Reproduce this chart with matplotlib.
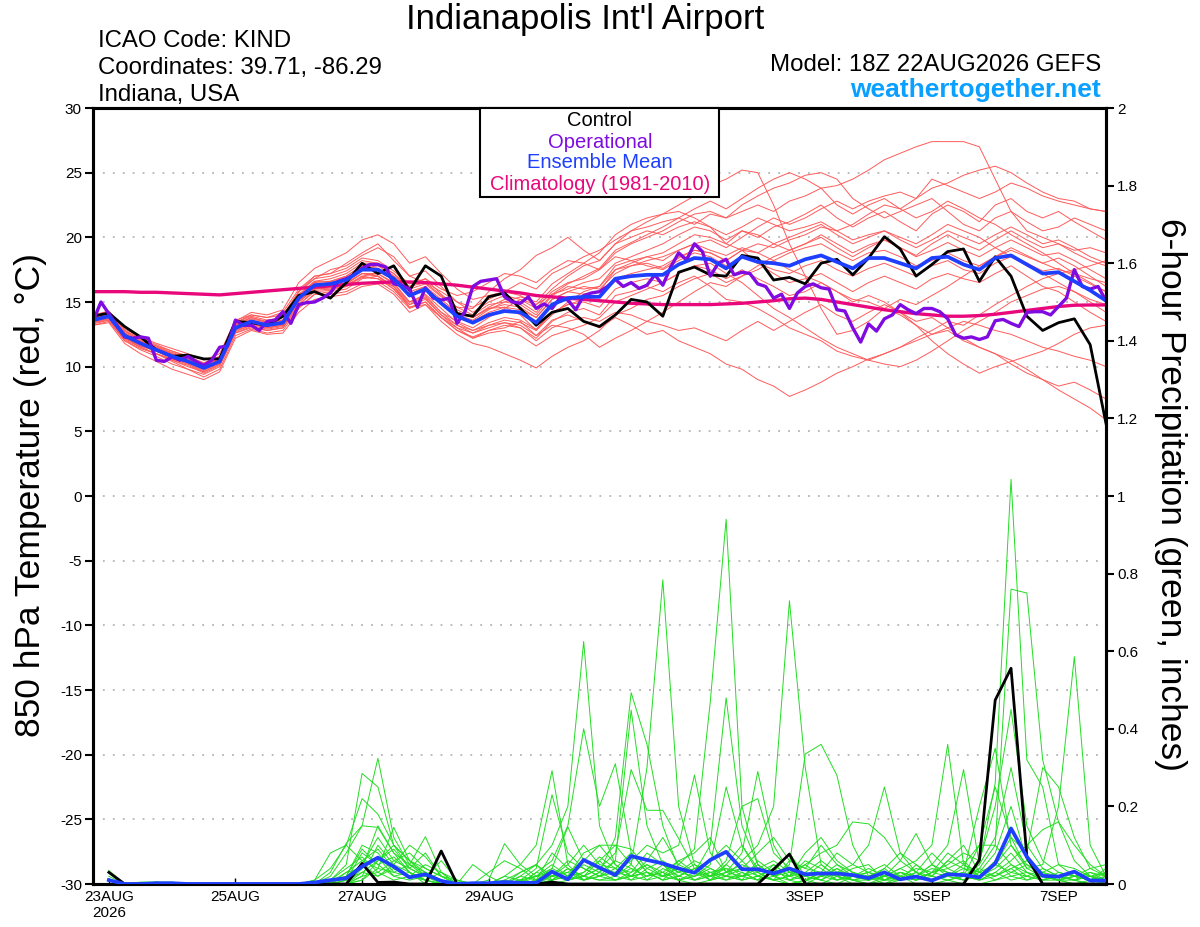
import numpy as np
import matplotlib
matplotlib.use('Agg')
import matplotlib.pyplot as plt
from matplotlib.patches import Rectangle

plt.rcParams['font.family'] = ['Liberation Sans', 'DejaVu Sans']
plt.rcParams['axes.unicode_minus'] = False

# ---------------- data ----------------
tick_hours = [6, 54, 102, 150, 222, 270, 318, 366]
tick_labels = ['23AUG\n2026', '25AUG', '27AUG', '29AUG', '1SEP', '3SEP', '5SEP', '7SEP']

control_t = [13.9, 14.15, 13.1, 12.3, 11.3, 10.8, 10.9, 10.6, 10.6, 13.5,
             13.4, 13.2, 13.9, 15.5, 15.8, 15.3, 16.5, 18.0, 17.2, 17.8,
             15.9, 17.8, 17.0, 14.1, 13.9, 15.4, 15.7, 14.5, 13.2, 14.2,
             14.5, 13.5, 13.1, 14.0, 15.2, 15.0, 13.9, 17.3, 17.7, 17.1,
             17.0, 18.6, 18.4, 16.7, 16.9, 16.4, 18.0, 18.3, 17.1, 18.4,
             20.05, 19.1, 17.0, 17.9, 18.9, 19.1, 16.6, 18.5, 17.0, 13.9,
             12.8, 13.4, 13.7, 11.7, 5.6]

mean_t = [13.6, 13.9, 12.4, 11.8, 11.3, 10.8, 10.4, 9.9, 10.4, 13.0,
          13.5, 13.2, 13.4, 15.3, 16.3, 16.4, 16.7, 17.5, 17.5, 16.8,
          15.5, 16.0, 14.9, 13.9, 13.4, 14.0, 14.3, 14.2, 13.4, 14.8,
          15.3, 15.4, 15.4, 16.8, 17.0, 17.1, 17.1, 17.9, 18.4, 18.3,
          17.6, 18.5, 18.1, 18.0, 17.8, 18.3, 18.6, 18.1, 17.6, 18.4,
          18.4, 18.0, 17.6, 18.4, 18.5, 17.9, 17.5, 18.4, 18.6, 17.9,
          17.2, 17.3, 16.6, 15.9, 15.1]

clim_t = [15.8, 15.8, 15.8, 15.75, 15.75, 15.7, 15.65, 15.6, 15.55, 15.65,
          15.75, 15.85, 15.95, 16.05, 16.15, 16.25, 16.35, 16.45, 16.5, 16.55,
          16.55, 16.5, 16.4, 16.3, 16.15, 16.0, 15.85, 15.7, 15.5, 15.4,
          15.3, 15.2, 15.1, 15.0, 14.9, 14.85, 14.8, 14.8, 14.8, 14.8,
          14.85, 14.9, 15.0, 15.1, 15.25, 15.3, 15.2, 15.0, 14.8, 14.6,
          14.4, 14.25, 14.1, 14.0, 13.9, 13.9, 13.95, 14.05, 14.2, 14.35,
          14.5, 14.65, 14.75, 14.77, 14.77]

oper_t = [13.5, 15.0, 14.1, 13.2, 12.3, 12.2, 12.3, 12.2, 10.5, 10.4,
          10.75, 10.5, 10.8, 10.4, 10.1, 10.5, 11.5, 11.6, 13.6, 13.2,
          13.2, 12.8, 13.5, 13.6, 14.25, 13.35, 14.8, 14.95, 15.0, 15.3,
          15.7, 16.6, 16.8, 17.1, 17.6, 17.9, 17.9, 17.7, 16.4, 16.3,
          16.0, 14.6, 16.1, 15.3, 15.15, 15.3, 13.35, 14.25, 16.2, 16.6,
          16.7, 16.8, 15.4, 15.0, 14.9, 15.4, 14.5, 14.85, 14.5, 15.3,
          15.15, 14.4, 15.5, 15.7, 15.8, 16.2, 16.75, 16.2, 16.5, 16.05,
          16.3, 17.1, 16.3, 17.7, 18.8, 18.25, 19.5, 18.9, 17.0, 18.0,
          18.3, 17.1, 17.3, 17.2, 16.4, 16.2, 15.3, 15.6, 14.5, 15.7,
          16.2, 16.4, 16.1, 16.0, 14.4, 14.3, 13.0, 11.9, 13.3, 12.75,
          13.7, 14.0, 14.8, 14.4, 14.1, 14.5, 14.5, 14.25, 13.7, 12.45,
          12.2, 12.3, 12.1, 12.3, 13.55, 13.65, 13.35, 13.1, 14.2, 14.25,
          14.25, 14.0, 14.65, 15.3, 17.5, 16.2, 16.0, 16.2, 15.1]

tm01 = [13.8, 14.2, 12.8, 12.0, 11.0, 10.5, 10.0, 9.6, 10.2, 12.8, 13.2, 13.5, 13.8, 15.8, 17.0,
        17.2, 18.0, 18.8, 19.5, 18.2, 17.0, 16.5, 15.8, 15.0, 14.6, 15.2, 15.8, 16.5, 16.0, 17.2,
        17.8, 18.5, 19.0, 19.8, 20.5, 20.8, 21.2, 21.5, 21.0, 21.8, 21.5, 22.0, 22.5, 22.0, 22.8,
        23.2, 23.8, 24.0, 24.5, 25.2, 26.0, 26.5, 27.0, 27.4, 27.4, 27.4, 27.0, 24.5, 22.0, 20.5,
        20.0, 19.5, 19.0, 19.2, 18.8]
tm02 = [13.4, 13.6, 12.0, 11.4, 11.0, 10.4, 9.8, 9.4, 10.0, 12.6, 13.0, 12.8, 13.0, 14.6, 15.6,
        15.8, 16.0, 16.8, 17.0, 16.0, 14.8, 15.2, 14.0, 13.0, 12.2, 12.8, 13.0, 13.5, 12.4, 13.6,
        14.0, 13.5, 13.0, 13.8, 13.2, 12.5, 12.8, 12.0, 11.5, 11.0, 10.2, 9.8, 9.0, 8.5, 7.7,
        8.2, 8.8, 9.5, 10.0, 10.6, 11.0, 11.5, 12.0, 12.5, 13.0, 13.5, 13.2, 12.8, 12.5, 12.0,
        11.5, 11.2, 10.8, 10.5, 10.0]
tm03 = [13.7, 14.0, 12.6, 11.9, 11.4, 11.0, 10.6, 10.2, 10.6, 13.2, 13.8, 13.4, 13.6, 15.5, 16.6,
        16.8, 17.2, 18.0, 18.0, 17.0, 15.8, 16.2, 15.0, 14.0, 13.5, 14.2, 14.6, 14.0, 12.8, 14.0,
        15.0, 15.8, 16.2, 17.5, 18.0, 18.5, 18.2, 19.0, 19.5, 19.0, 18.6, 19.2, 18.8, 18.2, 17.5,
        17.0, 16.5, 15.8, 15.2, 15.0, 14.5, 14.0, 13.2, 12.5, 12.8, 12.0, 11.5, 11.0, 10.2, 9.5,
        9.0, 8.2, 7.5, 6.8, 5.9]
tm04 = [13.5, 13.8, 12.3, 11.6, 11.2, 10.9, 10.6, 10.0, 10.6, 13.4, 14.0, 13.8, 14.0, 15.8, 16.8,
        17.5, 17.8, 18.6, 19.2, 18.5, 17.0, 17.4, 16.2, 15.0, 14.2, 15.0, 15.5, 15.2, 14.5, 15.8,
        16.5, 16.8, 17.5, 18.8, 19.5, 20.0, 20.5, 21.2, 21.8, 22.0, 21.5, 22.5, 23.2, 23.8, 24.2,
        24.8, 25.0, 24.5, 23.0, 22.2, 21.5, 22.0, 22.5, 23.0, 22.0, 21.0, 20.5, 21.5, 22.0, 21.2,
        20.5, 20.8, 21.5, 21.0, 20.5]
tm05 = [13.2, 13.5, 12.0, 11.3, 10.8, 10.2, 9.8, 9.2, 9.8, 12.4, 12.9, 12.6, 12.8, 14.5, 15.6,
        15.6, 15.8, 16.4, 16.6, 15.8, 14.5, 15.0, 13.8, 12.8, 12.3, 12.8, 13.2, 13.0, 12.2, 13.5,
        14.2, 14.5, 14.0, 15.5, 15.8, 16.2, 15.8, 16.5, 17.0, 16.2, 15.2, 15.0, 14.5, 13.8, 13.0,
        12.5, 12.0, 11.2, 10.8, 10.5, 11.0, 11.5, 12.2, 12.8, 13.5, 13.2, 14.0, 14.8, 15.5, 16.2,
        16.8, 17.2, 17.5, 17.8, 18.2]
tm06 = [14.0, 14.3, 12.9, 12.3, 11.8, 11.4, 11.0, 10.5, 11.0, 13.6, 14.0, 13.8, 14.2, 16.0, 17.0,
        17.2, 17.6, 18.4, 18.2, 17.4, 16.4, 16.8, 15.6, 14.6, 14.0, 14.8, 15.0, 14.8, 14.0, 15.5,
        16.2, 16.0, 16.2, 17.8, 18.2, 18.5, 18.8, 19.5, 20.2, 20.0, 19.5, 20.5, 20.0, 20.8, 21.2,
        21.8, 22.5, 21.5, 20.8, 21.5, 22.0, 21.2, 20.5, 21.8, 22.5, 22.0, 21.2, 22.5, 23.0, 22.0,
        21.5, 22.0, 21.2, 20.5, 19.8]
tm07 = [13.6, 13.8, 12.2, 11.6, 11.2, 10.6, 10.2, 9.7, 10.3, 12.8, 13.4, 13.0, 13.2, 15.0, 16.0,
        16.2, 16.5, 17.2, 17.2, 16.5, 15.0, 15.5, 14.2, 13.5, 13.0, 13.8, 14.5, 15.2, 14.8, 16.0,
        17.0, 17.8, 18.2, 19.5, 20.5, 21.2, 21.8, 22.5, 23.2, 24.0, 24.5, 25.2, 25.0, 22.5, 19.5,
        17.0, 14.5, 12.5, 12.8, 13.5, 14.5, 15.2, 14.8, 15.5, 16.2, 17.0, 17.8, 18.5, 19.0, 18.5,
        18.0, 17.5, 17.2, 16.8, 16.5]
tm08 = [13.8, 14.0, 12.5, 11.9, 11.5, 11.0, 10.6, 10.0, 10.5, 13.2, 13.6, 13.3, 13.5, 15.4, 16.4,
        16.5, 16.9, 17.6, 17.6, 17.0, 15.6, 16.2, 15.2, 14.2, 13.8, 14.5, 14.8, 14.6, 13.8, 15.2,
        15.8, 16.2, 16.0, 17.2, 17.8, 18.0, 17.6, 18.4, 19.0, 18.8, 18.2, 19.0, 19.5, 19.2, 19.8,
        20.2, 20.8, 20.5, 21.0, 21.8, 22.5, 22.2, 23.0, 23.8, 24.2, 24.8, 25.2, 25.5, 25.0, 24.2,
        23.5, 23.0, 22.8, 22.2, 22.0]
tm09 = [13.5, 13.7, 12.2, 11.5, 11.0, 10.5, 10.1, 9.5, 10.1, 12.9, 13.3, 13.0, 13.2, 15.0, 16.1,
        16.0, 16.2, 17.0, 16.8, 16.2, 15.0, 15.6, 14.5, 13.4, 12.8, 13.4, 13.8, 13.6, 12.9, 14.2,
        14.8, 15.0, 14.6, 16.0, 16.5, 16.8, 16.5, 17.2, 17.8, 17.5, 16.8, 17.5, 16.8, 16.2, 15.5,
        15.8, 16.5, 15.8, 15.0, 15.5, 15.0, 14.2, 13.5, 13.8, 13.0, 12.2, 11.5, 11.0, 10.5, 9.8,
        9.0, 8.5, 8.8, 8.2, 7.5]
tm10 = [13.4, 13.7, 12.3, 11.7, 11.2, 10.7, 10.3, 9.8, 10.3, 12.7, 13.2, 12.9, 13.1, 14.8, 15.8,
        15.9, 16.2, 16.9, 16.8, 16.0, 14.6, 14.8, 13.5, 12.5, 11.8, 11.5, 11.0, 10.5, 9.9, 10.8,
        11.5, 12.0, 12.8, 14.0, 14.5, 15.2, 15.5, 16.2, 16.8, 17.2, 16.5, 17.0, 17.5, 18.2, 18.8,
        19.2, 19.5, 18.8, 18.2, 18.8, 19.0, 18.5, 17.8, 18.2, 18.8, 18.2, 17.8, 18.5, 19.2, 18.6,
        18.0, 18.4, 17.8, 17.0, 16.2]
tm11 = [13.9, 14.1, 12.6, 12.0, 11.5, 11.1, 10.7, 10.1, 10.7, 13.3, 13.8, 13.5, 13.6, 15.6, 16.6,
        16.6, 17.0, 17.8, 17.9, 17.2, 16.0, 16.4, 15.4, 14.6, 14.5, 15.8, 16.8, 17.5, 18.6, 19.2,
        20.0, 19.0, 18.2, 19.5, 20.0, 20.5, 20.2, 20.8, 21.2, 20.8, 20.2, 20.8, 21.5, 21.0, 20.5,
        20.8, 21.2, 20.5, 19.8, 20.2, 20.5, 19.8, 19.2, 19.8, 20.5, 20.0, 19.5, 20.2, 20.8, 20.2,
        19.5, 19.8, 19.2, 18.5, 18.0]
tm12 = [13.3, 13.6, 12.1, 11.5, 11.0, 10.6, 10.2, 9.6, 10.2, 12.6, 13.1, 12.8, 13.0, 14.8, 15.9,
        16.0, 16.3, 17.0, 17.2, 16.4, 15.0, 15.3, 14.0, 13.2, 12.8, 13.2, 13.4, 13.0, 12.0, 13.0,
        13.5, 13.8, 13.5, 14.2, 14.0, 13.5, 13.2, 12.8, 13.0, 12.5, 12.0, 12.8, 13.5, 12.8, 13.5,
        14.2, 14.8, 14.0, 13.5, 14.2, 14.8, 14.2, 13.2, 12.0, 11.0, 10.2, 9.5, 10.0, 10.4, 10.8,
        11.2, 11.8, 12.5, 13.0, 13.2]
tm13 = [13.7, 14.1, 12.7, 12.1, 11.6, 11.2, 10.8, 10.3, 10.8, 13.5, 14.2, 14.0, 14.4, 16.5, 17.6,
        18.2, 18.8, 19.8, 20.2, 19.5, 18.0, 18.5, 17.2, 16.0, 15.2, 15.5, 15.8, 15.5, 14.8, 15.6,
        16.0, 16.5, 16.8, 18.0, 18.5, 19.0, 19.5, 20.2, 20.8, 20.5, 19.8, 20.5, 20.2, 19.5, 19.0,
        19.5, 20.0, 19.2, 18.5, 19.2, 19.8, 19.2, 18.6, 19.5, 20.2, 19.5, 19.0, 19.8, 20.5, 19.8,
        19.2, 19.5, 18.8, 18.2, 17.8]
tm14 = [13.6, 13.9, 12.4, 11.8, 11.4, 10.9, 10.5, 10.0, 10.5, 13.1, 13.6, 13.3, 13.5, 15.3, 16.3,
        16.5, 16.8, 17.5, 17.4, 16.8, 15.4, 16.0, 15.0, 14.0, 13.6, 14.4, 15.0, 15.4, 15.0, 16.4,
        17.2, 18.0, 18.8, 20.2, 21.0, 21.5, 21.8, 22.0, 21.5, 20.8, 19.5, 19.0, 18.0, 17.2, 16.5,
        16.8, 17.2, 16.5, 15.8, 16.5, 17.0, 16.5, 16.0, 16.8, 17.2, 16.8, 16.5, 17.2, 17.8, 17.0,
        16.2, 15.8, 15.0, 14.2, 13.5]
tm15 = [13.2, 13.4, 11.8, 11.0, 10.4, 9.8, 9.4, 9.0, 9.6, 12.2, 12.8, 12.5, 12.6, 14.2, 15.2,
        15.4, 15.6, 16.2, 16.4, 15.6, 14.2, 14.8, 13.8, 13.0, 12.6, 13.2, 13.6, 13.4, 12.8, 14.2,
        14.8, 15.2, 15.5, 16.8, 17.2, 17.5, 17.8, 18.5, 19.0, 18.8, 18.2, 19.0, 18.8, 19.5, 20.0,
        20.5, 21.0, 20.2, 19.5, 20.0, 20.5, 20.0, 19.5, 20.2, 21.0, 20.5, 20.0, 19.2, 18.5, 17.8,
        17.2, 16.5, 15.8, 15.0, 14.2]
tm16 = [13.9, 14.2, 12.8, 12.2, 11.7, 11.2, 10.8, 10.2, 10.8, 13.4, 13.9, 13.6, 13.8, 15.8, 16.8,
        17.0, 17.4, 18.2, 18.0, 17.2, 16.2, 16.5, 15.5, 14.4, 13.8, 14.5, 14.6, 14.4, 13.8, 15.2,
        15.8, 15.6, 15.8, 17.5, 17.8, 18.2, 18.5, 19.0, 19.5, 19.8, 19.2, 20.0, 20.8, 21.5, 21.0,
        21.5, 22.2, 22.8, 22.2, 22.8, 23.2, 23.5, 23.0, 24.5, 24.0, 23.5, 23.0, 23.5, 24.2, 23.8,
        23.2, 22.8, 22.5, 22.2, 22.0]
tm17 = [13.5, 13.8, 12.4, 11.8, 11.3, 10.8, 10.4, 9.8, 10.4, 13.0, 13.5, 13.2, 13.4, 15.3, 16.2,
        16.5, 16.8, 17.6, 17.8, 17.0, 16.2, 16.8, 16.0, 15.5, 15.8, 16.5, 17.2, 17.0, 16.5, 17.5,
        18.2, 18.0, 17.5, 18.5, 18.2, 17.8, 17.5, 18.2, 18.8, 18.5, 17.8, 18.5, 18.0, 17.5, 17.2,
        17.8, 18.2, 17.5, 17.0, 17.6, 18.0, 17.5, 17.0, 17.8, 18.2, 17.5, 17.2, 18.0, 18.5, 18.0,
        17.4, 17.6, 17.0, 16.4, 15.8]
tm18 = [13.6, 14.0, 12.5, 11.9, 11.4, 10.9, 10.5, 10.0, 10.5, 13.0, 13.4, 13.1, 13.3, 15.1, 16.1,
        16.2, 16.4, 17.2, 17.0, 16.2, 14.8, 15.4, 14.2, 13.2, 12.6, 13.0, 13.4, 13.2, 12.4, 13.2,
        13.0, 12.5, 11.5, 12.2, 12.8, 13.5, 14.2, 15.0, 15.8, 16.5, 16.2, 17.0, 17.8, 18.5, 19.0,
        19.5, 20.2, 19.5, 18.8, 19.4, 19.8, 19.2, 18.5, 19.0, 19.6, 19.0, 18.5, 19.2, 19.8, 19.2,
        18.6, 18.8, 18.2, 17.5, 16.8]
tm19 = [13.8, 14.1, 12.6, 12.0, 11.6, 11.0, 10.6, 10.1, 10.6, 13.2, 13.7, 13.4, 13.6, 15.5, 16.5,
        16.6, 17.0, 17.8, 17.6, 16.9, 15.6, 16.0, 15.0, 14.2, 13.8, 14.6, 15.2, 15.0, 14.2, 15.6,
        16.4, 17.0, 17.6, 19.0, 19.6, 20.2, 20.8, 21.5, 22.2, 22.8, 22.2, 23.0, 23.8, 24.5, 25.0,
        24.5, 23.8, 22.5, 21.8, 22.5, 23.0, 22.2, 21.5, 22.0, 22.8, 22.2, 21.5, 21.0, 20.2, 19.5,
        18.8, 18.0, 17.2, 16.5, 15.8]
tm20 = [13.4, 13.8, 12.3, 11.7, 11.3, 10.8, 10.4, 9.9, 10.4, 12.9, 13.3, 13.0, 13.2, 15.0, 16.0,
        16.1, 16.4, 17.2, 17.0, 16.2, 14.6, 15.0, 13.8, 12.8, 12.2, 12.6, 12.8, 12.4, 11.6, 12.4,
        12.8, 13.2, 13.8, 15.0, 15.5, 16.0, 16.5, 17.2, 17.8, 18.0, 17.2, 16.5, 15.5, 14.5, 13.8,
        13.0, 12.2, 11.5, 11.0, 10.5, 10.2, 10.0, 10.5, 11.2, 12.0, 12.8, 13.5, 14.2, 15.0, 15.5,
        16.0, 16.2, 15.8, 15.2, 14.8]

control_p = [0.03, 0, 0, 0, 0, 0, 0, 0, 0, 0, 0, 0, 0, 0, 0, 0,
             0.053, 0.004, 0.005, 0, 0, 0.085, 0, 0, 0, 0, 0, 0, 0.005, 0, 0, 0,
             0, 0, 0, 0, 0, 0, 0, 0, 0, 0, 0.038, 0.077, 0, 0, 0, 0,
             0, 0, 0, 0, 0, 0, 0, 0.062, 0.474, 0.556, 0.07, 0, 0, 0, 0, 0]
mean_p = [0.01, 0, 0, 0.002, 0.002, 0, 0, 0, 0, 0, 0, 0, 0, 0.004, 0.01, 0.015,
          0.045, 0.068, 0.045, 0.017, 0.025, 0.008, 0, 0.002, 0.002, 0.005, 0.003, 0.003, 0.032, 0.012, 0.062, 0.042,
          0.023, 0.072, 0.062, 0.053, 0.04, 0.029, 0.062, 0.083, 0.038, 0.038, 0.027, 0.04, 0.025, 0.027, 0.027, 0.023,
          0.015, 0.03, 0.012, 0.019, 0.009, 0.025, 0.023, 0.017, 0.053, 0.143, 0.07, 0.021, 0.019, 0.032, 0.009, 0.009]

pm01 = [0.03, 0, 0, 0.005, 0, 0, 0, 0, 0, 0, 0, 0, 0, 0, 0.01, 0.05,
        0.285, 0.25, 0.10, 0.04, 0.02, 0.01, 0, 0, 0, 0, 0.02, 0.05, 0.1, 0.2, 0.625, 0.15,
        0.05, 0.02, 0.03, 0.01, 0.05, 0.09, 0.47, 0.94, 0.2, 0.05, 0.02, 0, 0.01, 0.03, 0.02, 0,
        0, 0.01, 0.02, 0, 0, 0.01, 0.02, 0.05, 0.26, 1.043, 0.32, 0.25, 0.05, 0.02, 0.01, 0.01]
pm02 = [0.02, 0, 0, 0, 0, 0, 0, 0, 0, 0, 0, 0, 0, 0, 0.02, 0.08,
        0.15, 0.324, 0.12, 0.05, 0.03, 0, 0, 0, 0, 0, 0, 0, 0.01, 0.04, 0.02, 0.06,
        0.1, 0.05, 0.3, 0.784, 0.2, 0.05, 0.03, 0.02, 0.06, 0.1, 0.2, 0.73, 0.3, 0.05, 0.02, 0.01,
        0, 0, 0.02, 0.01, 0.03, 0.08, 0.05, 0.1, 0.1, 0.76, 0.75, 0.32, 0.16, 0.06, 0.02, 0.01]
pm03 = [0, 0, 0, 0, 0, 0, 0, 0, 0, 0, 0, 0, 0, 0.01, 0.04, 0.1,
        0.22, 0.18, 0.1, 0.06, 0.02, 0.01, 0, 0, 0, 0.02, 0.05, 0.1, 0.292, 0.05, 0.01, 0.03,
        0.12, 0.493, 0.36, 0.15, 0.04, 0.01, 0.02, 0.05, 0.1, 0.04, 0.02, 0.05, 0.335, 0.36, 0.28, 0.1,
        0.02, 0, 0.01, 0.02, 0.01, 0.03, 0.02, 0.1, 0.25, 0.12, 0.04, 0.05, 0.2, 0.586, 0.1, 0.02]
pm04 = [0, 0, 0.005, 0.005, 0, 0, 0, 0, 0, 0, 0, 0, 0, 0, 0.03, 0.105,
        0.15, 0.146, 0.08, 0.05, 0.122, 0.03, 0, 0, 0, 0, 0, 0.03, 0.06, 0.15, 0.4, 0.2,
        0.31, 0.08, 0.03, 0.02, 0.01, 0.03, 0.1, 0.48, 0.15, 0.05, 0.02, 0.01, 0, 0.02, 0.05, 0.03,
        0.01, 0.02, 0.04, 0.06, 0.1, 0.36, 0.05, 0.02, 0.05, 0.1, 0.04, 0.02, 0.01, 0, 0.01, 0]
pm05 = [0, 0, 0, 0, 0, 0, 0, 0, 0, 0, 0, 0, 0, 0.01, 0.08, 0.1,
        0.06, 0.04, 0.146, 0.06, 0.03, 0.01, 0, 0, 0, 0, 0.01, 0.04, 0.23, 0.08, 0.04, 0.02,
        0.06, 0.448, 0.15, 0.05, 0.02, 0.04, 0.01, 0.03, 0.08, 0.29, 0.1, 0.03, 0.01, 0, 0.02, 0.01,
        0, 0.02, 0.03, 0.02, 0.05, 0.1, 0.295, 0.05, 0.12, 0.3, 0.1, 0.04, 0.02, 0.01, 0, 0]
pm06 = [0, 0, 0, 0, 0, 0, 0, 0, 0, 0, 0, 0, 0, 0, 0, 0.02,
        0.05, 0.12, 0.06, 0.08, 0.04, 0.02, 0.01, 0, 0.01, 0.104, 0.05, 0.02, 0.04, 0.147, 0.06, 0.04,
        0.08, 0.295, 0.19, 0.19, 0.117, 0.04, 0.02, 0.06, 0.2, 0.22, 0.08, 0.04, 0.02, 0.01, 0.03, 0.05,
        0.1, 0.25, 0.08, 0.03, 0.01, 0.02, 0.01, 0.04, 0.1, 0.05, 0.03, 0.02, 0.01, 0.03, 0.02, 0.01]
pm07 = [0, 0, 0, 0, 0, 0, 0, 0, 0, 0, 0, 0, 0, 0, 0, 0.01,
        0.08, 0.05, 0.07, 0.03, 0.01, 0, 0, 0.05, 0.02, 0, 0.01, 0.02, 0.03, 0.01, 0.02, 0.04,
        0.03, 0.06, 0.1, 0.08, 0.1, 0.281, 0.08, 0.03, 0.02, 0.04, 0.06, 0.03, 0.05, 0.08, 0.1, 0.16,
        0.155, 0.12, 0.06, 0.13, 0.05, 0.02, 0.03, 0.2, 0.35, 0.1, 0.05, 0.03, 0.02, 0.01, 0.02, 0.03]
pm08 = [0.01, 0, 0, 0, 0, 0, 0, 0, 0, 0, 0, 0, 0, 0, 0, 0.03,
        0.06, 0.09, 0.04, 0.02, 0.05, 0.03, 0.01, 0, 0, 0.01, 0.03, 0.05, 0.01, 0.02, 0.08, 0.1,
        0.1, 0.09, 0.04, 0.06, 0.03, 0.02, 0.05, 0.25, 0.1, 0.03, 0.01, 0.02, 0.05, 0.02, 0.01, 0.02,
        0.03, 0.05, 0.02, 0.01, 0.03, 0.05, 0.08, 0.06, 0.2, 0.45, 0.15, 0.06, 0.03, 0.02, 0.01, 0.04]
pm09 = [0, 0, 0, 0, 0, 0, 0, 0, 0, 0, 0, 0, 0, 0, 0, 0,
        0.02, 0.1, 0.05, 0.1, 0.07, 0.02, 0, 0, 0, 0, 0, 0.01, 0.02, 0.05, 0.1, 0.05,
        0.04, 0.03, 0.08, 0.05, 0.03, 0.06, 0.04, 0.02, 0.04, 0.08, 0.12, 0.06, 0.04, 0.1, 0.05, 0.02,
        0.01, 0.03, 0.01, 0.05, 0.02, 0.06, 0.1, 0.03, 0.05, 0.12, 0.08, 0.3, 0.25, 0.12, 0.04, 0.02]
pm10 = [0, 0, 0, 0, 0, 0, 0, 0, 0, 0, 0, 0, 0, 0, 0, 0.01,
        0.03, 0.06, 0.09, 0.04, 0.02, 0.06, 0.01, 0, 0, 0.02, 0.01, 0, 0.02, 0.03, 0.06, 0.1,
        0.05, 0.02, 0.06, 0.12, 0.05, 0.03, 0.02, 0.04, 0.03, 0.01, 0.05, 0.02, 0.08, 0.12, 0.06, 0.03,
        0.02, 0.01, 0.01, 0.03, 0.08, 0.04, 0.02, 0.01, 0.03, 0.06, 0.1, 0.14, 0.16, 0.1, 0.05, 0.02]
pm11 = [0, 0, 0, 0, 0, 0, 0, 0, 0, 0, 0, 0, 0, 0, 0.01, 0.02,
        0.1, 0.08, 0.03, 0.02, 0.01, 0, 0, 0, 0, 0, 0.03, 0.05, 0.02, 0.01, 0.03, 0.06,
        0.02, 0.04, 0.02, 0.03, 0.06, 0.08, 0.12, 0.03, 0.05, 0.03, 0.01, 0.06, 0.04, 0.03, 0.08, 0.05,
        0.03, 0.02, 0.06, 0.03, 0.01, 0.02, 0.05, 0.03, 0.08, 0.2, 0.06, 0.03, 0.01, 0.02, 0.04, 0.05]
pm12 = [0, 0, 0, 0, 0, 0, 0, 0, 0, 0, 0, 0, 0, 0, 0, 0,
        0.04, 0.15, 0.08, 0.03, 0, 0, 0, 0, 0, 0, 0, 0, 0, 0.01, 0.02, 0.01,
        0.01, 0.02, 0.05, 0.03, 0.01, 0, 0.01, 0.02, 0.01, 0.02, 0.01, 0, 0.01, 0.02, 0.04, 0.02,
        0.01, 0.04, 0.08, 0.05, 0.02, 0.01, 0, 0, 0.01, 0.03, 0.05, 0.02, 0.01, 0, 0, 0]
pm13 = [0.035, 0, 0, 0, 0, 0, 0, 0, 0, 0, 0, 0, 0, 0, 0.005, 0.02,
        0.09, 0.05, 0.02, 0.03, 0.01, 0, 0, 0, 0.03, 0.06, 0.04, 0.01, 0.08, 0.04, 0.02, 0.01,
        0.02, 0.01, 0.04, 0.02, 0.06, 0.03, 0.01, 0.05, 0.02, 0.01, 0.03, 0.08, 0.02, 0.01, 0, 0.02,
        0.04, 0.02, 0.01, 0.03, 0.02, 0.06, 0.04, 0.02, 0.04, 0.08, 0.03, 0.01, 0.02, 0.01, 0.02, 0]
pm14 = [0, 0, 0, 0, 0, 0, 0, 0, 0, 0, 0, 0, 0, 0, 0, 0,
        0.01, 0.06, 0.1, 0.06, 0.04, 0.02, 0, 0, 0, 0, 0, 0.02, 0.05, 0.02, 0.03, 0.07,
        0.04, 0.08, 0.03, 0.01, 0.02, 0.04, 0.06, 0.1, 0.06, 0.02, 0.04, 0.01, 0.03, 0.06, 0.03, 0.01,
        0.02, 0.04, 0.01, 0.02, 0.04, 0.03, 0.01, 0.02, 0.06, 0.02, 0.01, 0.03, 0.05, 0.04, 0.02, 0.01]
pm15 = [0, 0, 0, 0.005, 0.005, 0, 0, 0, 0, 0, 0, 0, 0, 0, 0, 0,
        0.02, 0.03, 0.06, 0.04, 0.08, 0.02, 0, 0, 0, 0, 0.01, 0.02, 0.01, 0.04, 0.01, 0.02,
        0.03, 0.02, 0.01, 0.04, 0.02, 0.01, 0.03, 0.01, 0.02, 0.05, 0.02, 0.04, 0.01, 0.03, 0.02, 0.04,
        0.05, 0.01, 0.03, 0.01, 0.02, 0.01, 0.02, 0.04, 0.02, 0.05, 0.02, 0.01, 0.01, 0.02, 0.01, 0.03]
pm16 = [0, 0, 0, 0, 0, 0, 0, 0, 0, 0, 0, 0, 0, 0, 0, 0.01,
        0.05, 0.02, 0.04, 0.02, 0.03, 0.01, 0, 0, 0, 0, 0, 0, 0.01, 0.02, 0.05, 0.03,
        0.06, 0.04, 0.02, 0.05, 0.01, 0.02, 0.04, 0.02, 0.01, 0.06, 0.03, 0.02, 0.06, 0.04, 0.01, 0.03,
        0.01, 0.02, 0.04, 0.02, 0.01, 0.02, 0.03, 0.01, 0.02, 0.04, 0.06, 0.02, 0.01, 0.01, 0, 0.02]
pm17 = [0, 0, 0, 0, 0, 0, 0, 0, 0, 0, 0, 0, 0, 0, 0.005, 0.03,
        0.04, 0.07, 0.02, 0.01, 0.02, 0, 0, 0, 0, 0.01, 0, 0.03, 0.02, 0.06, 0.04, 0.02,
        0.01, 0.03, 0.05, 0.02, 0.04, 0.01, 0.02, 0.03, 0.04, 0.02, 0.01, 0.02, 0.03, 0.01, 0.04, 0.01,
        0.02, 0.03, 0.02, 0.04, 0.03, 0.02, 0.01, 0.03, 0.01, 0.02, 0.03, 0.01, 0.02, 0.03, 0.01, 0.01]
pm18 = [0, 0, 0, 0, 0, 0, 0, 0, 0, 0, 0, 0, 0, 0, 0, 0,
        0.03, 0.02, 0.05, 0.03, 0.01, 0.03, 0, 0, 0, 0, 0.02, 0.01, 0.03, 0.01, 0.02, 0.04,
        0.02, 0.05, 0.01, 0.02, 0.03, 0.05, 0.02, 0.01, 0.03, 0.01, 0.02, 0.03, 0.02, 0.05, 0.02, 0.01,
        0.01, 0.02, 0.01, 0.02, 0.05, 0.03, 0.02, 0.01, 0.03, 0.01, 0.02, 0.04, 0.02, 0.01, 0.03, 0.02]
pm19 = [0, 0, 0, 0, 0, 0, 0, 0, 0, 0, 0, 0, 0, 0, 0.01, 0.04,
        0.07, 0.03, 0.01, 0.02, 0.01, 0, 0, 0, 0, 0, 0, 0.01, 0.04, 0.02, 0.01, 0.03,
        0.01, 0.02, 0.03, 0.01, 0.02, 0.04, 0.01, 0.02, 0.02, 0.03, 0.05, 0.02, 0.01, 0.02, 0.03, 0.02,
        0.03, 0.01, 0.02, 0.01, 0.03, 0.04, 0.06, 0.02, 0.05, 0.03, 0.02, 0.01, 0.03, 0.02, 0.01, 0.02]
pm20 = [0, 0, 0, 0, 0, 0, 0, 0, 0, 0, 0, 0, 0, 0, 0, 0,
        0.01, 0.04, 0.03, 0.05, 0.02, 0.01, 0, 0, 0, 0, 0.01, 0, 0.02, 0.03, 0.01, 0.02,
        0.04, 0.01, 0.02, 0.03, 0.01, 0.02, 0.03, 0.04, 0.01, 0.02, 0.04, 0.01, 0.02, 0.03, 0.01, 0.02,
        0.02, 0.01, 0.03, 0.02, 0.01, 0.02, 0.04, 0.03, 0.02, 0.04, 0.01, 0.02, 0.01, 0.02, 0.03, 0.01]

temp_members = [tm01, tm02, tm03, tm04, tm05, tm06, tm07, tm08, tm09, tm10,
                tm11, tm12, tm13, tm14, tm15, tm16, tm17, tm18, tm19, tm20]
precip_members = [pm01, pm02, pm03, pm04, pm05, pm06, pm07, pm08, pm09, pm10,
                  pm11, pm12, pm13, pm14, pm15, pm16, pm17, pm18, pm19, pm20]

hours_t = np.arange(0, 385, 6)    # 18Z 22AUG + 0..384 h
hours_op = np.arange(0, 385, 3)
hours_p = np.arange(6, 385, 6)

# ---------------- figure ----------------
W, H = 1200, 927
fig = plt.figure(figsize=(W / 100, H / 100), dpi=100)
ax = fig.add_axes([93 / W, (H - 884) / H, (1106 - 93) / W, (884 - 108) / H])
ax2 = ax.twinx()

RED = '#ff5a5a'
GREEN = '#22dd22'
for m in temp_members:
    ax.plot(hours_t, m, color=RED, lw=0.7, zorder=2)
ax.plot(hours_t, clim_t, color='#e8087c', lw=2.4, zorder=3)
ax.plot(hours_t, control_t, color='black', lw=2.0, zorder=4)
ax.plot(hours_op, oper_t, color='#7f0be0', lw=2.4, zorder=5)
ax.plot(hours_t, mean_t, color='#1f3fff', lw=2.7, zorder=6)

for m in precip_members:
    ax2.plot(hours_p, m, color=GREEN, lw=0.7, zorder=2)
ax2.plot(hours_p, control_p, color='black', lw=2.0, zorder=4)
ax2.plot(hours_p, mean_p, color='#1f3fff', lw=2.7, zorder=6)

ax.set_xlim(0, 384)
ax.set_ylim(-30, 30)
ax2.set_ylim(0, 2)

for v in range(-25, 30, 5):
    ax.axhline(v, color='#b4b4b4', lw=1.3, ls=(0, (1, 4.5)), zorder=1)

ax.set_yticks(np.arange(-30, 31, 5))
ax.set_yticklabels([str(v) for v in range(-30, 31, 5)])
ax2.set_yticks(np.round(np.arange(0, 2.01, 0.2), 1))
ax2.set_yticklabels(['0', '0.2', '0.4', '0.6', '0.8', '1', '1.2', '1.4', '1.6', '1.8', '2'])
ax.set_xticks(tick_hours)
ax.set_xticklabels(tick_labels, multialignment='center')

ax.tick_params(axis='y', direction='out', length=6, width=1.5, labelsize=11, pad=2)
ax2.tick_params(axis='y', direction='out', length=6, width=1.5, labelsize=11, pad=2)
ax.tick_params(axis='x', direction='in', length=4, width=1.0, labelsize=11, pad=4)
for a in (ax, ax2):
    for s in a.spines.values():
        s.set_linewidth(2.2)

# axis titles
fig.text(31 / W, 1 - 495 / H, '850 hPa Temperature (red, \u00b0C)', rotation=90,
         ha='center', va='center', fontsize=25.5)
fig.text(1170 / W, 1 - 495 / H, '6-hour Precipitation (green, inches)', rotation=270,
         ha='center', va='center', fontsize=25.5)

# header
fig.text(585 / W, 1 - 29 / H, "Indianapolis Int'l Airport", ha='center', va='baseline', fontsize=25)
fig.text(98 / W, 1 - 47 / H, 'ICAO Code: KIND', ha='left', va='baseline', fontsize=17.3)
fig.text(98 / W, 1 - 74 / H, 'Coordinates: 39.71, -86.29', ha='left', va='baseline', fontsize=17.3)
fig.text(98 / W, 1 - 101 / H, 'Indiana, USA', ha='left', va='baseline', fontsize=17.3)
fig.text(1101 / W, 1 - 71 / H, 'Model: 18Z 22AUG2026 GEFS', ha='right', va='baseline', fontsize=17.3)
fig.text(1101 / W, 1 - 97 / H, 'weathertogether.net', ha='right', va='baseline', fontsize=19,
         fontweight='bold', color='#0aa0ff')

# legend box
fig.patches.append(Rectangle((480 / W, 1 - 197 / H), 239 / W, 89 / H, transform=fig.transFigure,
                             facecolor='white', edgecolor='black', lw=1.5, zorder=10))
leg = [('Control', 'black', 121), ('Operational', '#7f0be0', 142),
       ('Ensemble Mean', '#1f3fff', 163), ('Climatology (1981-2010)', '#e8087c', 185)]
for txt, col, yy in leg:
    fig.text(600 / W, 1 - yy / H, txt, ha='center', va='center', fontsize=14.5, color=col, zorder=11)

fig.savefig('out.png', dpi=100)
